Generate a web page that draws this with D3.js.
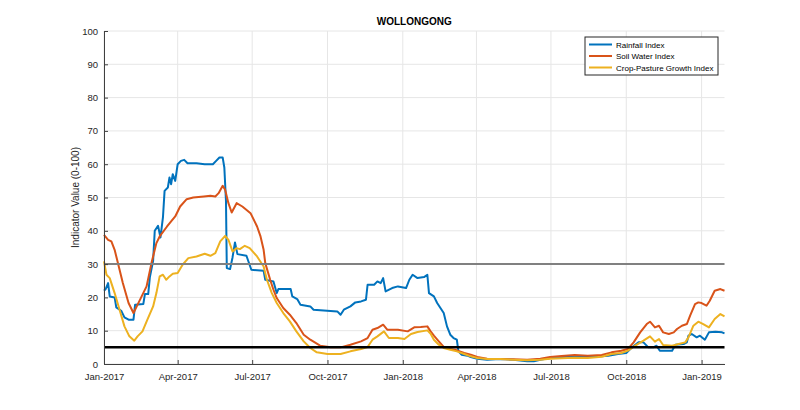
<!DOCTYPE html>
<html>
<head>
<meta charset="utf-8">
<script src="https://cdn.jsdelivr.net/npm/d3@7"></script>
<style>
  body { margin: 0; background: #fff; }
  svg { display: block; font-family: "Liberation Sans", Arial, sans-serif; }
</style>
</head>
<body>
<div id="chart"></div>
<script>
// series values: [date, value]
const rainfall = [
  ['2017-01-01',22],['2017-01-03',22.5],['2017-01-06',24.3],['2017-01-08',20.3],['2017-01-14',20],['2017-01-16',17],
  ['2017-01-22',16],['2017-01-26',14],['2017-01-31',13.3],['2017-02-06',13.3],['2017-02-08',17.8],['2017-02-18',18],
  ['2017-02-20',21],['2017-02-24',21],['2017-02-26',26],['2017-03-02',31],['2017-03-04',40],['2017-03-08',41.5],
  ['2017-03-11',38],['2017-03-14',44],['2017-03-16',52],['2017-03-20',53],['2017-03-22',56],['2017-03-24',54],
  ['2017-03-26',57],['2017-03-29',55],['2017-04-01',60],['2017-04-05',61],['2017-04-09',61.3],['2017-04-13',60.3],
  ['2017-04-24',60.3],['2017-05-04',60],['2017-05-14',60],['2017-05-18',61],['2017-05-22',62],['2017-05-26',62],
  ['2017-05-28',59],['2017-05-30',49],['2017-05-31',28.8],['2017-06-04',28.5],['2017-06-07',32],['2017-06-10',36.5],
  ['2017-06-13',33],['2017-06-24',32.5],['2017-06-30',28.3],['2017-07-15',28],['2017-07-17',25.3],['2017-07-27',24.8],
  ['2017-07-31',21.3],['2017-08-02',22.5],['2017-08-17',22.5],['2017-08-19',20.3],['2017-08-25',19.5],['2017-08-29',17.8],
  ['2017-09-10',17.3],['2017-09-14',16.3],['2017-10-13',15.8],['2017-10-17',14.8],['2017-10-21',16.3],['2017-10-29',17.3],
  ['2017-11-04',18.5],['2017-11-11',18.8],['2017-11-17',19.3],['2017-11-19',23.8],['2017-11-27',23.8],['2017-12-01',24.8],
  ['2017-12-05',24.3],['2017-12-08',25.8],['2017-12-11',21.8],['2017-12-19',22.8],['2017-12-26',23.3],['2018-01-05',22.8],
  ['2018-01-09',25.3],['2018-01-13',26.8],['2018-01-19',25.8],['2018-01-27',26.1],['2018-01-31',26.8],['2018-02-02',21.3],
  ['2018-02-08',20.3],['2018-02-12',18.3],['2018-02-16',16.8],['2018-02-20',15.3],['2018-02-24',11.3],['2018-02-28',8.8],
  ['2018-03-04',7.8],['2018-03-08',7.3],['2018-03-10',3.8],['2018-03-14',2.8],['2018-03-21',2.5],['2018-03-25',2.1],
  ['2018-04-02',1.6],['2018-04-14',1.3],['2018-04-30',1.5],['2018-05-16',1.3],['2018-06-02',0.8],['2018-06-10',0.8],
  ['2018-06-18',1.3],['2018-06-30',1.8],['2018-07-12',2],['2018-07-26',2.3],['2018-08-07',2.3],['2018-08-24',2.2],
  ['2018-09-09',2.5],['2018-09-21',3],['2018-10-01',3.3],['2018-10-08',5],['2018-10-16',6.5],['2018-10-22',6.5],
  ['2018-10-28',5],['2018-11-03',5],['2018-11-07',5.5],['2018-11-11',4],['2018-11-26',4],['2018-11-30',5.8],
  ['2018-12-10',6],['2018-12-14',6.5],['2018-12-16',8.5],['2018-12-20',9],['2018-12-26',8],['2018-12-30',8.5],
  ['2019-01-05',7.3],['2019-01-10',9.5],['2019-01-18',9.7],['2019-01-26',9.5],['2019-01-29',9.2]
];
const soilWater = [
  ['2017-01-01',38.8],['2017-01-06',37.3],['2017-01-10',36.8],['2017-01-14',34.3],['2017-01-18',30.3],['2017-01-24',24.3],
  ['2017-01-31',18.3],['2017-02-06',15.3],['2017-02-10',17.3],['2017-02-16',20.3],['2017-02-22',23.3],['2017-02-28',30.3],
  ['2017-03-06',36.3],['2017-03-10',38.3],['2017-03-19',41.3],['2017-03-29',44.3],['2017-04-04',47.3],['2017-04-12',49.5],
  ['2017-04-20',50],['2017-05-03',50.3],['2017-05-11',50.5],['2017-05-17',50.3],['2017-05-21',51.3],['2017-05-26',53.5],
  ['2017-05-29',52.3],['2017-06-02',48.3],['2017-06-06',45.5],['2017-06-12',48.3],['2017-06-19',47.3],['2017-06-29',45.3],
  ['2017-07-07',41.3],['2017-07-11',38.5],['2017-07-15',34.3],['2017-07-17',30.3],['2017-07-23',25.3],['2017-07-27',22.3],
  ['2017-07-31',19.8],['2017-08-08',16.8],['2017-08-16',14.8],['2017-08-24',12.3],['2017-09-02',8.8],['2017-09-10',7.3],
  ['2017-09-22',5.5],['2017-10-05',5],['2017-10-17',5],['2017-10-29',5.8],['2017-11-11',6.8],['2017-11-19',7.8],
  ['2017-11-25',10.3],['2017-12-01',10.8],['2017-12-08',11.8],['2017-12-13',10.3],['2017-12-26',10.3],['2018-01-07',9.8],
  ['2018-01-15',11],['2018-01-23',11.1],['2018-01-31',11.3],['2018-02-04',9.8],['2018-02-08',8.5],['2018-02-14',6.8],
  ['2018-02-20',5.1],['2018-02-28',4.5],['2018-03-08',4.1],['2018-03-17',3.3],['2018-03-25',2.8],['2018-04-02',2.1],
  ['2018-04-14',1.6],['2018-04-30',1.5],['2018-05-16',1.4],['2018-06-02',1.3],['2018-06-18',1.6],['2018-06-30',2.1],
  ['2018-07-14',2.4],['2018-07-30',2.7],['2018-08-15',2.5],['2018-09-01',2.7],['2018-09-13',3.5],['2018-09-25',4],
  ['2018-10-03',4.5],['2018-10-10',6.5],['2018-10-18',9.5],['2018-10-26',12],['2018-10-30',12.7],['2018-11-05',11],
  ['2018-11-10',11.5],['2018-11-15',9.5],['2018-11-22',9],['2018-11-28',9.5],['2018-12-02',10.5],['2018-12-08',11.5],
  ['2018-12-14',12],['2018-12-18',14.5],['2018-12-24',18],['2018-12-28',18.5],['2019-01-01',18.3],['2019-01-07',17.5],
  ['2019-01-11',19],['2019-01-17',22],['2019-01-24',22.5],['2019-01-29',22]
];
const cropGrowth = [
  ['2017-01-01',30.8],['2017-01-04',26.8],['2017-01-08',25.8],['2017-01-14',21.3],['2017-01-20',16.3],['2017-01-26',11.3],
  ['2017-02-01',8.3],['2017-02-07',7],['2017-02-11',8.3],['2017-02-17',9.8],['2017-02-23',13.3],['2017-03-02',17.3],
  ['2017-03-06',21.3],['2017-03-10',26.3],['2017-03-14',26.8],['2017-03-18',25.3],['2017-03-22',26.3],['2017-03-26',27.1],
  ['2017-04-01',27.3],['2017-04-07',29.8],['2017-04-14',31.8],['2017-04-24',32.3],['2017-05-04',33.1],['2017-05-11',32.5],
  ['2017-05-17',33.3],['2017-05-23',36.8],['2017-05-29',38.5],['2017-06-02',37.3],['2017-06-07',33.8],['2017-06-12',34.8],
  ['2017-06-16',34.5],['2017-06-22',35.5],['2017-06-28',34.8],['2017-07-07',32.3],['2017-07-11',30.8],['2017-07-15',29.3],
  ['2017-07-19',25.3],['2017-07-25',21.3],['2017-07-31',18.3],['2017-08-08',15.3],['2017-08-16',12.8],['2017-08-24',9.8],
  ['2017-09-02',6.8],['2017-09-10',4.8],['2017-09-18',3.5],['2017-10-01',3],['2017-10-17',3],['2017-10-29',3.8],
  ['2017-11-11',4.5],['2017-11-19',5.1],['2017-11-25',7.3],['2017-12-01',8.3],['2017-12-09',9.8],['2017-12-15',7.8],
  ['2017-12-26',7.8],['2018-01-03',7.5],['2018-01-11',9],['2018-01-19',9.6],['2018-01-31',10.1],['2018-02-04',9.1],
  ['2018-02-08',7.3],['2018-02-14',5.8],['2018-02-20',4.8],['2018-02-28',4.3],['2018-03-08',3.8],['2018-03-17',3],
  ['2018-03-25',2.3],['2018-04-02',1.8],['2018-04-14',1.5],['2018-04-30',1.5],['2018-05-16',1.3],['2018-06-02',1.1],
  ['2018-06-18',1.3],['2018-06-30',1.6],['2018-07-14',1.7],['2018-07-30',1.9],['2018-08-15',1.8],['2018-09-01',2.2],
  ['2018-09-13',3],['2018-09-25',3.3],['2018-10-03',4],['2018-10-12',5.5],['2018-10-22',7],['2018-10-30',8.3],
  ['2018-11-05',6.7],['2018-11-10',7.5],['2018-11-15',5.7],['2018-11-26',5.5],['2018-12-04',6],['2018-12-12',6.5],
  ['2018-12-16',8],['2018-12-22',11.5],['2018-12-28',12.7],['2019-01-03',12],['2019-01-10',11],['2019-01-17',13.5],
  ['2019-01-24',15],['2019-01-29',14.3]
];
const seriesNames = ['Rainfall Index', 'Soil Water Index', 'Crop-Pasture Growth Index'];
const seriesColors = ['#0072BD', '#D95319', '#EDB120'];
const thresholds = [30, 5];
const yTicks = [0, 10, 20, 30, 40, 50, 60, 70, 80, 90, 100];
const dateRange = ['2017-01-01', '2019-01-29'];
const title = 'WOLLONGONG';
const yLabel = 'Indicator Value (0-100)';

const width = 800, height = 410;
const margin = {top: 31, right: 75.5, bottom: 46, left: 104};
const parse = d3.timeParse('%Y-%m-%d');

const svg = d3.select('#chart').append('svg')
    .attr('width', width)
    .attr('height', height);

const x = d3.scaleTime()
    .domain(dateRange.map(parse))
    .range([margin.left, width - margin.right]);
const y = d3.scaleLinear()
    .domain([0, 100])
    .range([height - margin.bottom, margin.top]);

// grid
const xTicks = d3.timeMonth.every(3).range(parse('2017-01-01'), parse('2019-01-02'));
svg.append('g').selectAll('line').data(yTicks).join('line')
    .attr('x1', x.range()[0]).attr('x2', x.range()[1])
    .attr('y1', d => y(d)).attr('y2', d => y(d))
    .attr('stroke', '#e6e6e6').attr('stroke-width', 1);
svg.append('g').selectAll('line').data(xTicks).join('line')
    .attr('x1', d => x(d)).attr('x2', d => x(d))
    .attr('y1', y(0)).attr('y2', y(100))
    .attr('stroke', '#e6e6e6').attr('stroke-width', 1);

// data lines
const line = d3.line()
    .x(d => x(parse(d[0])))
    .y(d => y(d[1]));
[rainfall, soilWater, cropGrowth].forEach((s, i) => {
    svg.append('path')
        .datum(s)
        .attr('d', line)
        .attr('fill', 'none')
        .attr('stroke', seriesColors[i])
        .attr('stroke-width', 2)
        .attr('stroke-linejoin', 'round');
});

// threshold lines
svg.append('line')
    .attr('x1', x.range()[0]).attr('x2', x.range()[1])
    .attr('y1', y(thresholds[0])).attr('y2', y(thresholds[0]))
    .attr('stroke', '#808080').attr('stroke-width', 2);
svg.append('line')
    .attr('x1', x.range()[0]).attr('x2', x.range()[1])
    .attr('y1', y(thresholds[1])).attr('y2', y(thresholds[1]))
    .attr('stroke', '#000').attr('stroke-width', 2.5);

// axes
const xAxis = svg.append('g')
    .attr('transform', 'translate(0,' + y(0) + ')')
    .call(d3.axisBottom(x).tickValues(xTicks).tickFormat(d3.timeFormat('%b-%Y'))
        .tickSizeInner(-4).tickSizeOuter(0).tickPadding(9));
const yAxis = svg.append('g')
    .attr('transform', 'translate(' + margin.left + ',0)')
    .call(d3.axisLeft(y).tickValues(yTicks).tickSizeInner(-4).tickSizeOuter(0).tickPadding(6));
[xAxis, yAxis].forEach(g => {
    g.select('.domain').attr('stroke', '#404040');
    g.selectAll('.tick line').attr('stroke', '#404040');
    g.selectAll('.tick text').attr('fill', '#262626').style('font-size', '9.5px')
        .style('font-family', '"Liberation Sans", Arial, sans-serif');
});

// title and label
svg.append('text')
    .attr('x', (x.range()[0] + x.range()[1]) / 2)
    .attr('y', 25)
    .attr('text-anchor', 'middle')
    .style('font-size', '10px').style('font-weight', 'bold')
    .attr('fill', '#000')
    .text(title);
svg.append('text')
    .attr('transform', 'translate(79,' + y(50) + ') rotate(-90)')
    .attr('text-anchor', 'middle')
    .style('font-size', '10px')
    .attr('fill', '#262626')
    .text(yLabel);

// legend
const lg = svg.append('g').attr('transform', 'translate(585,37)');
lg.append('rect')
    .attr('width', 133).attr('height', 38)
    .attr('fill', '#fff').attr('stroke', '#262626').attr('stroke-width', 1);
seriesNames.forEach((n, i) => {
    const row = lg.append('g').attr('transform', 'translate(0,' + (7.5 + i * 11.5) + ')');
    row.append('line')
        .attr('x1', 4).attr('x2', 27)
        .attr('stroke', seriesColors[i]).attr('stroke-width', 2);
    row.append('text')
        .attr('x', 31).attr('y', 3)
        .style('font-size', '8px')
        .attr('fill', '#000')
        .text(n);
});
</script>
</body>
</html>
